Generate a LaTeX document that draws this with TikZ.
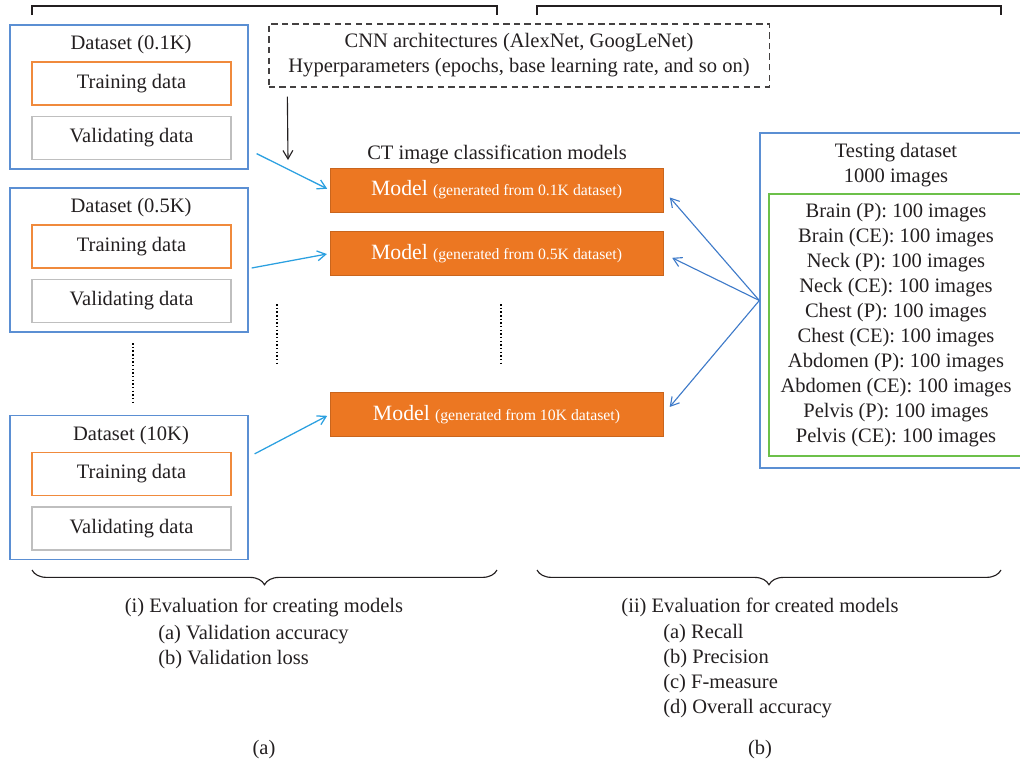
\documentclass[tikz,border=0pt]{standalone}
\usepackage{fontspec}
\setmainfont{Liberation Serif}
\usetikzlibrary{positioning,calc,decorations.pathreplacing,arrows.meta}

\definecolor{boxblue}{HTML}{5B8FD3}
\definecolor{trainorange}{HTML}{F08A3C}
\definecolor{valgray}{HTML}{BFBFBF}
\definecolor{testgreen}{HTML}{6CC04A}
\definecolor{modelorange}{HTML}{EC7722}
\definecolor{inarrow}{HTML}{2BA0E0}
\definecolor{outarrow}{HTML}{3F7BC9}
\definecolor{txt}{HTML}{231F20}

\newcommand\bodyfont{\fontsize{14.6}{17.8}\selectfont}
\newcommand\bigfont{\fontsize{15.5}{18}\selectfont}
\newcommand\smallfont{\fontsize{11.2}{13}\selectfont}

\tikzset{
  dsbox/.style={draw=boxblue, line width=0.9pt, minimum width=5.95cm, minimum height=3.6cm},
  trainbox/.style={draw=trainorange, line width=0.9pt, minimum width=4.975cm, minimum height=1.075cm},
  valbox/.style={draw=valgray, line width=0.9pt, minimum width=4.975cm, minimum height=1.075cm},
  modelbox/.style={fill=modelorange, draw=modelorange!85!black, text=white, minimum width=8.325cm, minimum height=1.1cm},
  lbl/.style={inner sep=0pt},
  dots/.style={line width=1.2pt, dash pattern=on 1.1pt off 1.5pt},
  inarr/.style={->, draw=inarrow, line width=0.9pt, shorten >=2pt},
  outarr/.style={->, draw=outarrow, line width=0.8pt, shorten >=7pt},
  bracket/.style={draw=txt, line width=0.9pt},
  brace/.style={draw=txt, line width=0.8pt, decorate, decoration={brace, amplitude=10.5pt}},
}

\begin{document}
\begin{tikzpicture}[x=0.025cm, y=-0.025cm, font=\bodyfont, text=txt,
    >={Straight Barb[length=6pt, width=7pt]}]
    \useasboundingbox (0,0) rectangle (1020,763);

    % top brackets
    \draw[bracket] (32,15) |- (497,6) -- (497,15);
    \draw[bracket] (537,15) |- (1001,6) -- (1001,15);

    % datasets
    \node[dsbox] (ds1) at (129,97) {};
    \node[lbl] (ds1t) at (131,45) {Dataset (0.1K)};
    \node[trainbox] (tr1) at (131.5,83.5) {Training data};
    \node[valbox] (va1) at (131.5,138) {Validating data};

    \node[dsbox] (ds2) at (129,260) {};
    \node[lbl] (ds2t) at (131,208) {Dataset (0.5K)};
    \node[trainbox] (tr2) at (131.5,246.5) {Training data};
    \node[valbox] (va2) at (131.5,301) {Validating data};

    \node[dsbox] (ds3) at (129,487.5) {};
    \node[lbl] (ds3t) at (131,435.5) {Dataset (10K)};
    \node[trainbox] (tr3) at (131.5,474) {Training data};
    \node[valbox] (va3) at (131.5,528.5) {Validating data};

    % settings
    \node[draw=txt!85, line width=0.8pt, dash pattern=on 4.5pt off 3pt, minimum width=12.5cm,
      minimum height=1.575cm, align=center] (cnn) at (519,55.5)
      {CNN architectures (AlexNet, GoogLeNet)\\Hyperparameters (epochs, base learning rate, and so on)};
    \coordinate (cnntip) at (288,160);
    \draw[->, draw=txt, line width=0.8pt] ($(cnn.south west)+(19,9)$) -- (cnntip);

    % models
    \node[lbl] (ctlabel) at (497,154) {CT image classification models};
    \node[modelbox] (m1) at (496.5,190) {{\bigfont Model} {\smallfont (generated from 0.1K dataset)}};
    \node[modelbox] (m2) at (496.5,253.5) {{\bigfont Model} {\smallfont (generated from 0.5K dataset)}};
    \node[modelbox] (m3) at (496.5,414.5) {{\bigfont Model} {\smallfont (generated from 10K dataset)}};

    \draw[dots] (133,343) -- (133,403);
    \draw[dots] (277,304) -- (277,365);
    \draw[dots] (501,304) -- (501,365);

    % testing data
    \node[draw=boxblue, line width=0.9pt, minimum width=6.8cm, minimum height=8.375cm] (test) at (896,300.5) {};
    \node[lbl, align=center] (testt) at (896,165.5) {Testing dataset\\1000 images};
    \node[draw=testgreen, line width=0.9pt, minimum width=6.35cm, minimum height=6.55cm, align=center] (cls) at (896,325)
      {Brain (P): 100 images\\Brain (CE): 100 images\\Neck (P): 100 images\\Neck (CE): 100 images\\
       Chest (P): 100 images\\Chest (CE): 100 images\\Abdomen (P): 100 images\\Abdomen (CE): 100 images\\
       Pelvis (P): 100 images\\Pelvis (CE): 100 images};

    \draw[inarr] ($(ds1.south east)+(8,-16)$) -- (m1.west);
    \draw[inarr] ($(ds2.east)+(3,8)$) -- (m2.west);
    \draw[inarr] ($(ds3.north east)+(6,39)$) -- (m3.west);

    \draw[outarr] (test.west) -- (m1.east);
    \draw[outarr] (test.west) -- (m2.east);
    \draw[outarr] (test.west) -- (m3.east);

    % evaluation
    \draw[brace] (497,570) -- (32,570);
    \draw[brace] (1001,570) -- (537,570);

    \node[lbl] (evalA) at (264,607) {(i) Evaluation for creating models};
    \node[lbl, anchor=west, align=left] (evalAlist) at (158,647) {(a) Validation accuracy\\(b) Validation loss};
    \node[lbl] (evalB) at (760,607) {(ii) Evaluation for created models};
    \node[lbl, anchor=west, align=left] (evalBlist) at (663,671.5)
      {(a) Recall\\(b) Precision\\(c) F-measure\\(d) Overall accuracy};

    \node[lbl] (capA) at (264,750) {(a)};
    \node[lbl] (capB) at (760,750) {(b)};
\end{tikzpicture}
\end{document}
